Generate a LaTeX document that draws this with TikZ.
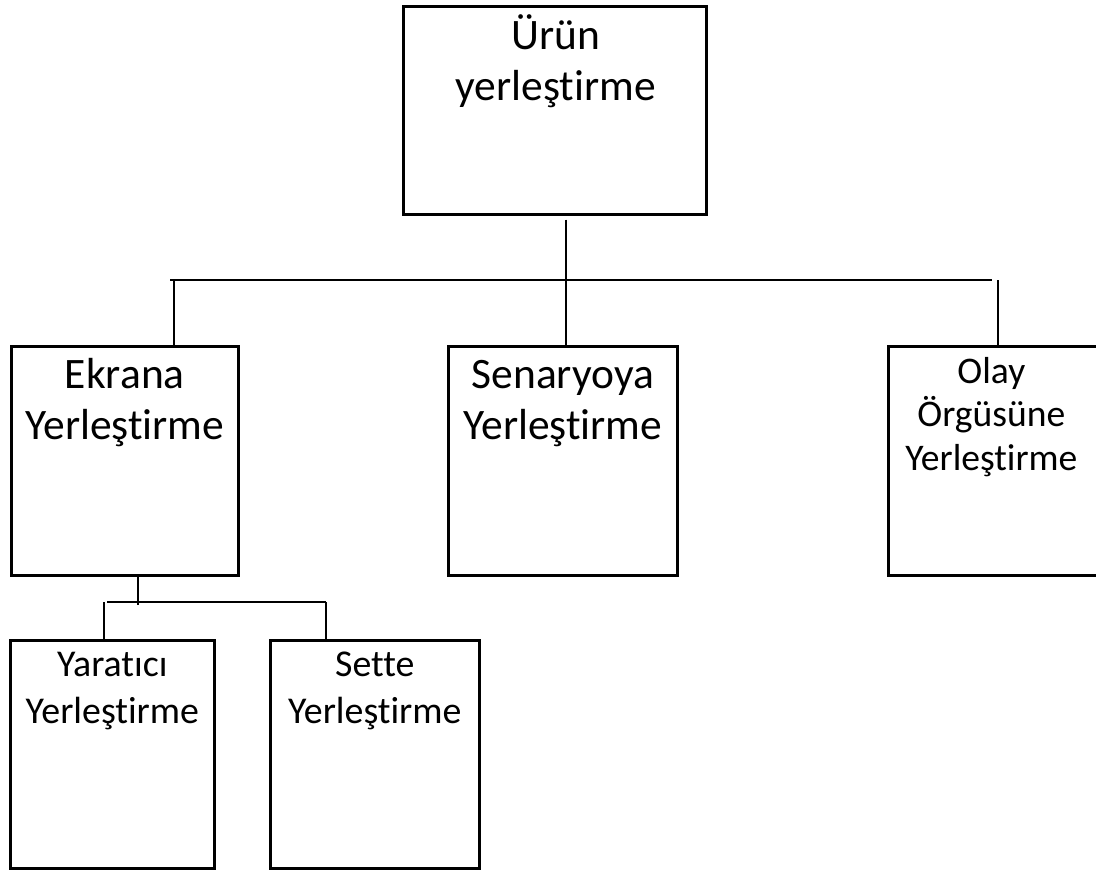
\documentclass[tikz,border=0pt]{standalone}
\usepackage{fontspec}
\setmainfont{Carlito}[Ligatures=CommonOff]
\usetikzlibrary{calc}
\begin{document}
\begin{tikzpicture}[x=0.75pt,y=-0.75pt,
  box/.style 2 args={draw, line width=2pt, inner sep=0pt, anchor=north west,
    minimum width=#1*0.75pt, minimum height=#2*0.75pt},
  conn/.style={line width=1.2pt},
  bigtxt/.style={font=\fontsize{32.6}{38.5}\selectfont, align=center, anchor=base, inner sep=0pt},
  midtxt/.style={font=\fontsize{28.2}{32.6}\selectfont, align=center, anchor=base, inner sep=0pt},
  lowtxt/.style={font=\fontsize{28.4}{35}\selectfont, align=center, anchor=base, inner sep=0pt}]
\clip (0,0) rectangle (1096,873);
\fill[white] (0,0) rectangle (1096,873);

% boxes
\node[box={303}{208}] (top)  at (402,5)   {};
\node[box={227}{229}] (ekr)  at (10,345)  {};
\node[box={229}{229}] (sen)  at (447,345) {};
\node[box={212}{229}] (olay) at (887,345) {};
\node[box={204}{228}] (yar)  at (9,639)   {};
\node[box={209}{228}] (set)  at (269,639) {};

% labels (anchored at the baseline of their last line)
\node[bigtxt] (topT)  at ($(top.north)+(1,96)$)   {Ürün\\yerleştirme};
\node[bigtxt] (ekrT)  at ($(ekr.north)+(0,95)$)   {Ekrana\\Yerleştirme};
\node[bigtxt] (senT)  at ($(sen.north)+(0,95)$)   {Senaryoya\\Yerleştirme};
\node[midtxt] (olayT) at ($(olay.north)+(-3,125)$) {Olay\\Örgüsüne\\Yerleştirme};
\node[lowtxt] (yarT)  at ($(yar.north)+(0,84)$)   {Yaratıcı\\Yerleştirme};
\node[lowtxt] (setT)  at ($(set.north)+(0,84)$)   {Sette\\Yerleştirme};

% first level connectors
\coordinate (busAL) at (170,280);
\coordinate (busAR) at (992,280);
\draw[conn] (busAL) -- (busAR);
\draw[conn] ($(top.south)+(11,4)$) -- ($(sen.north)+(3,0)$);
\draw[conn] ($(ekr.north west)+(164,0)$) -- ($(ekr.north west)+(164,-65)$);
\draw[conn] ($(olay.north west)+(111,0)$) -- ($(olay.north west)+(111,-65)$);

% second level connectors
\coordinate (busBL) at (107,602);
\coordinate (busBR) at (326,602);
\draw[conn] (busBL) -- (busBR);
\draw[line width=1.6pt] ($(ekr.south)+(13,0)$) -- ($(ekr.south)+(13,28)$);
\draw[conn] ($(yar.north west)+(95,0)$) -- ($(yar.north west)+(95,-37)$);
\draw[conn] ($(set.north west)+(57,0)$) -- ($(set.north west)+(57,-37)$);
\end{tikzpicture}
\end{document}
